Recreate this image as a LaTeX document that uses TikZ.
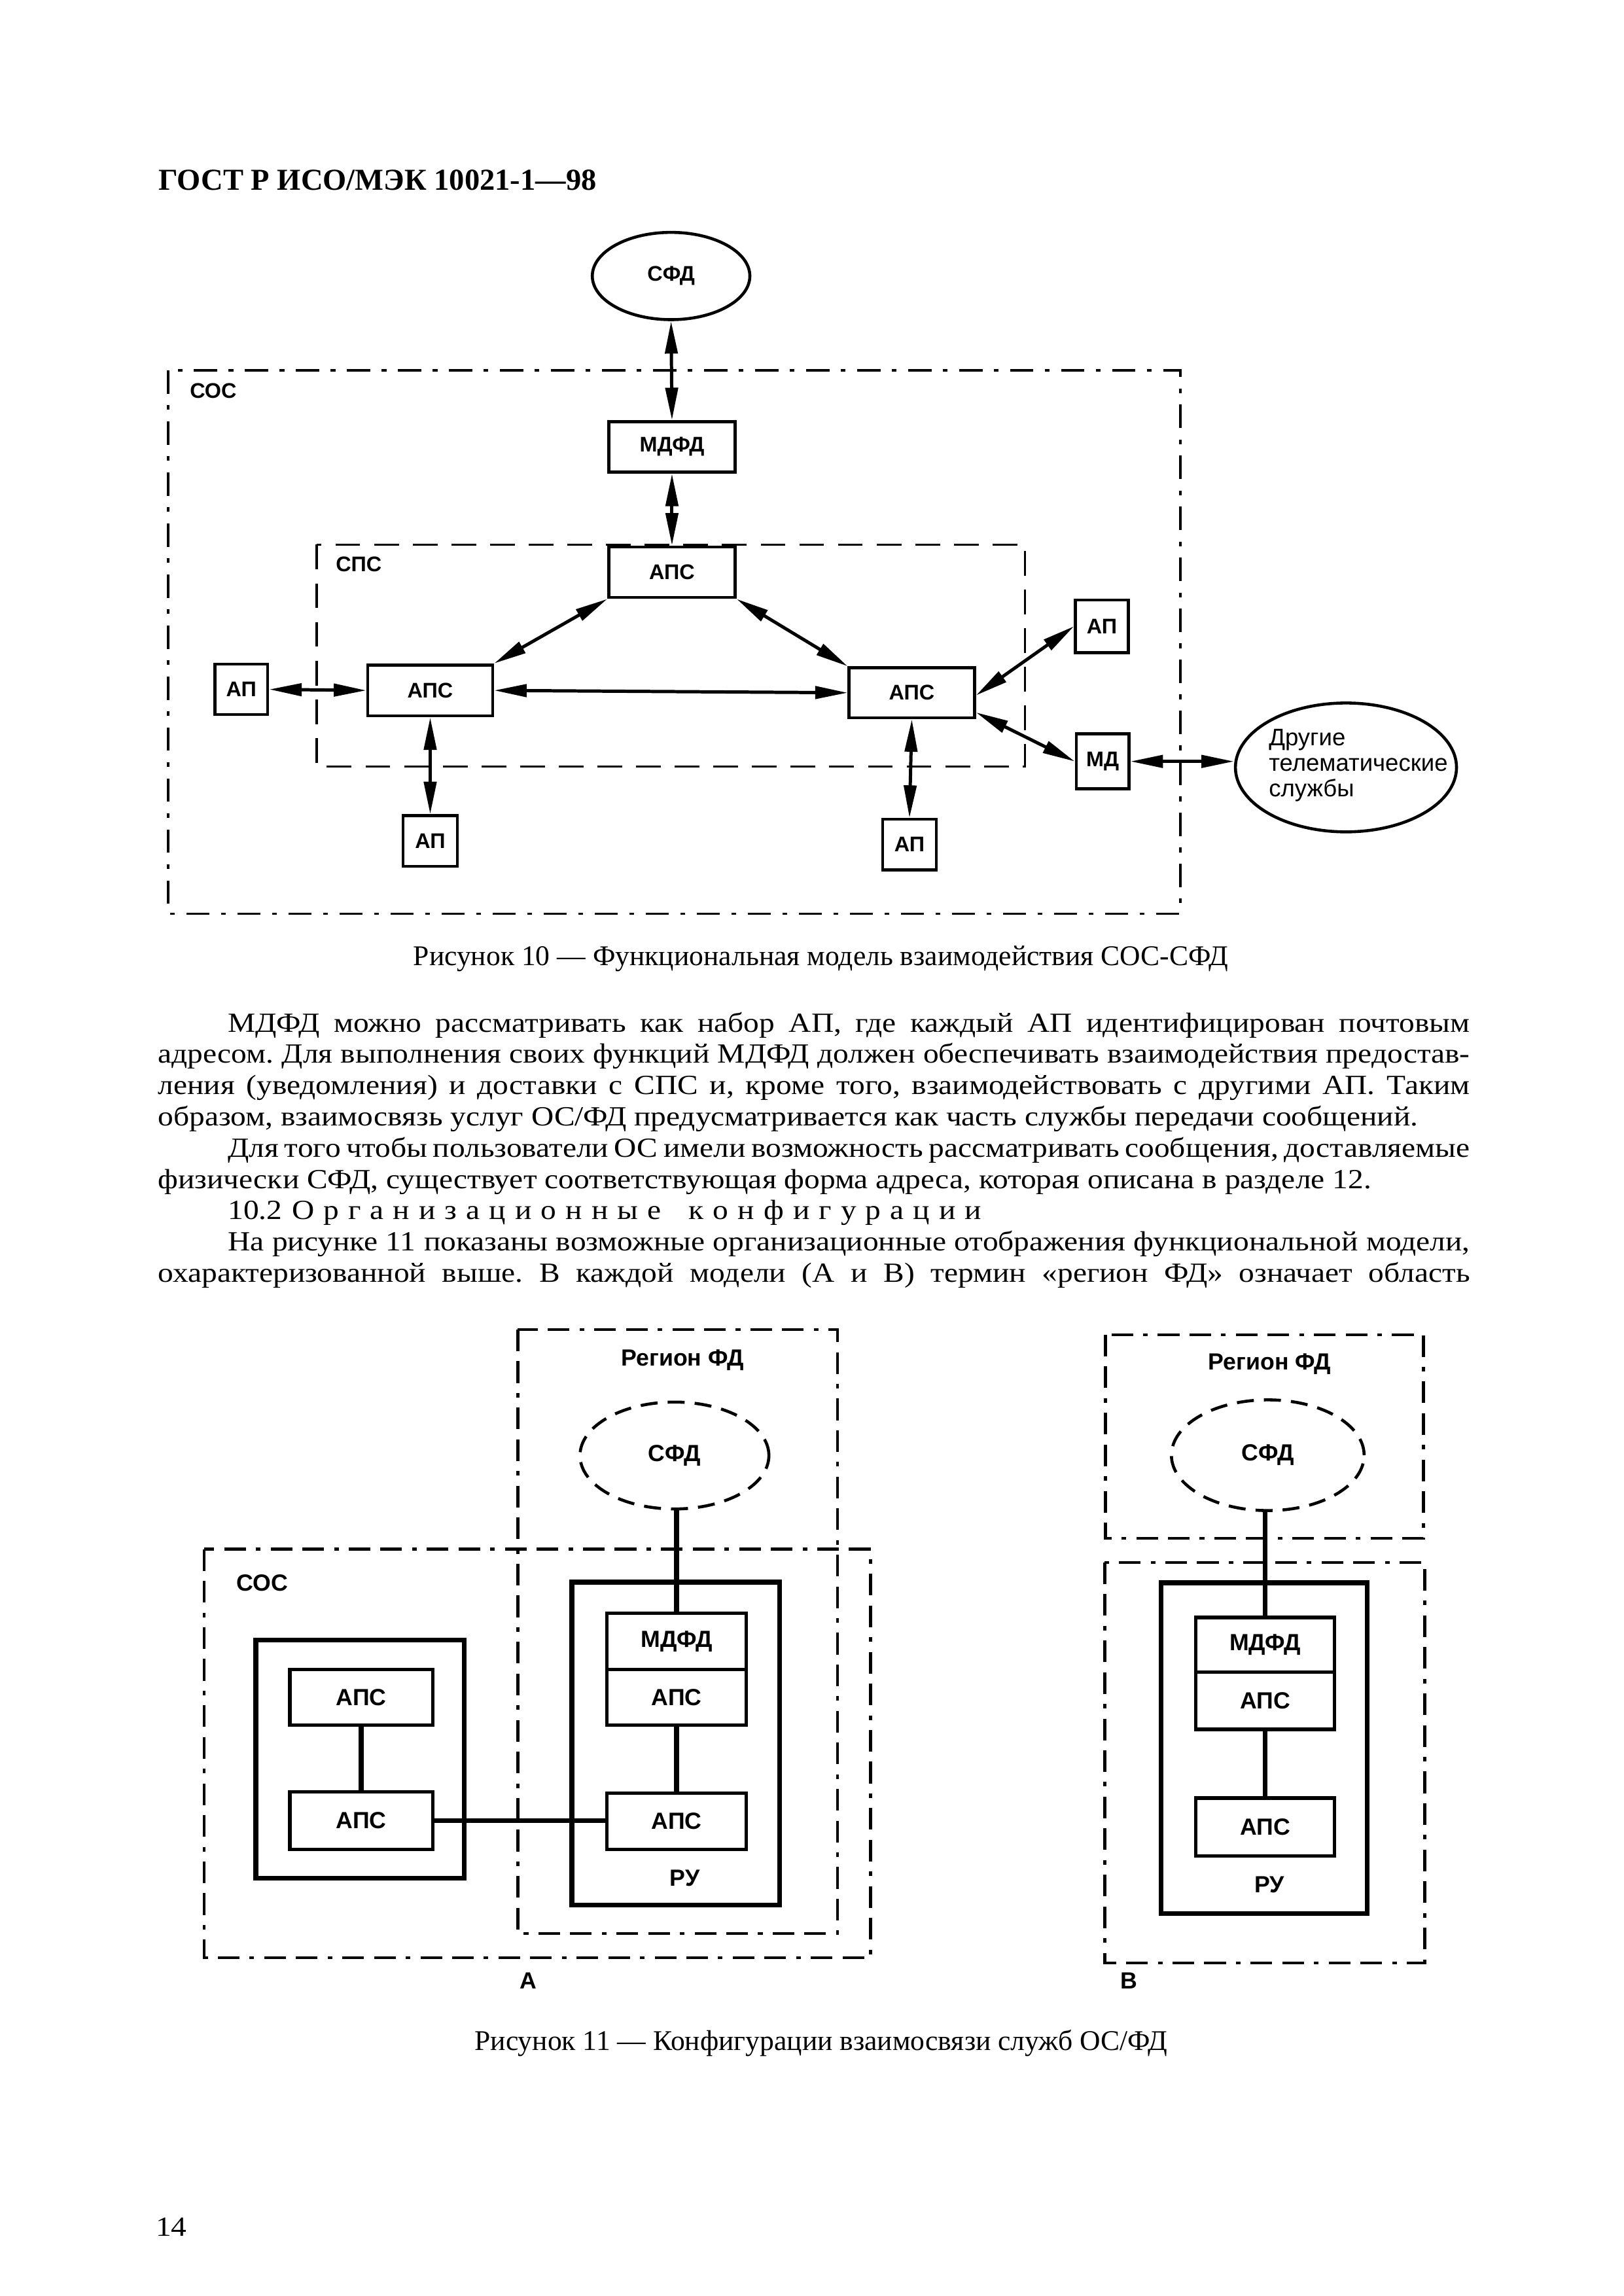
\documentclass[tikz,border=0pt]{standalone}
\usepackage{fontspec}
\setmainfont{Liberation Serif}
\newfontfamily\bodyfam[FakeStretch=1.12]{Liberation Serif}
\newfontfamily\lsans{Liberation Sans}
\usetikzlibrary{arrows.meta,shapes.geometric,calc}
\frenchspacing
\newlength{\pxu}\setlength{\pxu}{0.18941mm}
\newcommand{\bodyf}{\bodyfam\fontsize{10.2}{11.5}\selectfont}
\newcommand{\capf}{\fontsize{10.5}{12}\selectfont}
\newcommand{\labf}{\lsans\bfseries\fontsize{7.8}{9.3}\selectfont}
\newcommand{\labg}{\lsans\bfseries\fontsize{8.6}{10}\selectfont}
\newcommand{\labr}{\lsans\fontsize{8.8}{9.3}\selectfont}
\tikzset{
 bx/.style={draw, line width=1.1pt, inner sep=0pt, font=\labf},
 bxg/.style={draw, line width=1.3pt, inner sep=0pt, font=\labg},
 rubox/.style={draw, line width=1.8pt, inner sep=0pt},
 arr/.style={line width=1.2pt, {Triangle[length=4.2mm,width=1.6mm]}-{Triangle[length=4.2mm,width=1.6mm]}},
 ddot/.style={line width=0.9pt, dash pattern=on 3mm off 1.5mm on 0.6mm off 1.5mm},
 dsh/.style={line width=0.9pt, dash pattern=on 3.2mm off 1.8mm},
 ddg/.style={line width=1.1pt, dash pattern=on 2.8mm off 1.3mm on 2.8mm off 1.3mm on 0.6mm off 1.3mm},
 dell/.style={draw, ellipse, line width=1.1pt, dash pattern=on 2.2mm off 1.3mm, inner sep=0pt, font=\labg},
 conn/.style={line width=1.8pt},
 body/.style={inner sep=0pt, anchor=base west, font=\bodyf},
 capt/.style={inner sep=0pt, anchor=base, font=\capf},
 lbl/.style={inner sep=0pt, font=\labf},
 lblg/.style={inner sep=0pt, font=\labg},
}
\begin{document}
\begin{tikzpicture}[x=0.18941mm,y=-0.18941mm]
\fill[white] (0,0) rectangle (1109,1568);
\useasboundingbox (0,0) rectangle (1109,1568);

% header
\node[inner sep=0pt, anchor=base west, font=\bfseries\fontsize{11.2}{13}\selectfont] (head) at (108,129.6) {ГОСТ Р ИСО/МЭК 10021-1—98};

% ---------------- Figure 10 ----------------
\draw[ddot] (115,253) rectangle (806,624);
\node[lbl] (cosl) at (145.6,266.9) {СОС};
\draw[dsh] (216.3,372) rectangle (700,523.5);
\node[lbl] (spsl) at (245,385.5) {СПС};

\node[draw, ellipse, line width=1.1pt, inner sep=0pt, minimum width=107.6\pxu, minimum height=59.6\pxu, font=\labf] (sfd) at (458.3,188.5) {СФД};
\node[bx, minimum width=86.3\pxu, minimum height=34.5\pxu] (mdfd) at (458.9,305.2) {МДФД};
\node[bx, minimum width=86.3\pxu, minimum height=34.5\pxu] (apsT) at (458.9,390.8) {АПС};
\node[bx, minimum width=85.3\pxu, minimum height=34.8\pxu] (apsL) at (293.8,471.5) {АПС};
\node[bx, minimum width=85.6\pxu, minimum height=34.2\pxu] (apsR) at (622.7,473.1) {АПС};
\node[bx, minimum width=36.1\pxu, minimum height=34.5\pxu] (apL) at (164.8,470.8) {АП};
\node[bx, minimum width=37\pxu, minimum height=34.5\pxu] (apBL) at (293.8,574.3) {АП};
\node[bx, minimum width=36.6\pxu, minimum height=34.5\pxu] (apBR) at (621.1,576.8) {АП};
\node[bx, minimum width=36\pxu, minimum height=36\pxu] (apUR) at (752.5,427.7) {АП};
\node[bx, minimum width=36\pxu, minimum height=37.6\pxu] (md) at (753,520) {МД};
\node[draw, ellipse, line width=1.1pt, inner sep=0pt, minimum width=151\pxu, minimum height=88\pxu] (dr) at (919.2,524.1) {};
\node[inner sep=0pt, anchor=west, align=left, font=\labr] (drt) at (866.2,522.7) {Другие\\телематические\\службы};

\draw[arr] (sfd.south) -- (mdfd.north);
\draw[arr] (mdfd.south) -- (apsT.north);
\draw[arr] (apsT.south west) -- (apsL.north east);
\draw[arr] (apsT.south east) -- (apsR.north west);
\draw[arr] (apL.east) -- (apsL.west);
\draw[arr] (apsL.east) -- (apsR.west);
\draw[arr] (apsL.south) -- (apBL.north);
\draw[arr] (apsR.south) -- (apBR.north);
\draw[arr] ($(apsR.north east)!0.55!(apsR.south east)$) -- (apUR.west);
\draw[arr] ($(apsR.north east)!0.87!(apsR.south east)$) -- (md.west);
\draw[arr] (md.east) -- (md.east -| dr.west);

\node[capt] (cap10) at (560.5,659.4) {Рисунок 10 — Функциональная модель взаимодействия СОС-СФД};

% ---------------- body text ----------------
\node[body] (t1) at (155.3,704.7) {\makebox[848.2\pxu][s]{МДФД можно рассматривать как набор АП, где каждый АП идентифицирован почтовым}};
\node[body] (t2) at (107.6,726.1) {\makebox[896\pxu][s]{адресом. Для выполнения своих функций МДФД должен обеспечивать взаимодействия предостав-}};
\node[body] (t3) at (107.6,747.4) {\makebox[896\pxu][s]{ления (уведомления) и доставки с СПС и, кроме того, взаимодействовать с другими АП. Таким}};
\node[body] (t4) at (107.6,768.8) {образом, взаимосвязь услуг ОС/ФД предусматривается как часть службы передачи сообщений.};
\node[body] (t5) at (155.3,790.2) {\makebox[848.2\pxu][s]{Для того чтобы пользователи ОС имели возможность рассматривать сообщения, доставляемые}};
\node[body] (t6) at (107.6,811.6) {физически СФД, существует соответствующая форма адреса, которая описана в разделе 12.};
\node[body] (t7a) at (155.3,832.9) {10.2};
\node[body] (t7b) at (199,832.9) {\makebox[471\pxu][s]{О р г а н и з а ц и о н н ы е\ \ \ к о н ф и г у р а ц и и}};
\node[body] (t8) at (155.3,854.3) {\makebox[848.2\pxu][s]{На рисунке 11 показаны возможные организационные отображения функциональной модели,}};
\node[body] (t9) at (107.6,875.7) {\makebox[896\pxu][s]{охарактеризованной выше. В каждой модели (А и В) термин «регион ФД» означает область}};

% ---------------- Figure 11 A ----------------
\draw[ddg] (353.6,908) rectangle (572,1320.5);
\draw[ddg] (139.5,1058) rectangle (594.6,1337);
\node[lblg] (regAl) at (466,929) {Регион ФД};
\node[lblg] (cosAl) at (179,1081) {СОС};
\node[dell, minimum width=129\pxu, minimum height=73\pxu] (sfdA) at (460.6,994) {СФД};
\node[rubox, minimum width=142\pxu, minimum height=220.5\pxu] (ruA) at (461.5,1190.75) {};
\node[bxg, minimum width=95.2\pxu, minimum height=38.3\pxu] (mdfdA) at (462.1,1120.85) {МДФД};
\node[bxg, minimum width=95.2\pxu, minimum height=38\pxu] (apsA1) at (462.1,1159) {АПС};
\node[bxg, minimum width=95.2\pxu, minimum height=38.5\pxu] (apsA2) at (462.1,1243.75) {АПС};
\node[lblg] (ruAl) at (467.7,1282.6) {РУ};
\node[rubox, minimum width=142.2\pxu, minimum height=162.6\pxu] (lbox) at (245.9,1201.3) {};
\node[bxg, minimum width=97.5\pxu, minimum height=38\pxu] (apsL1) at (246.75,1159) {АПС};
\node[bxg, minimum width=97.5\pxu, minimum height=39.2\pxu] (apsL2) at (246.75,1243.4) {АПС};
\draw[conn] (mdfdA.north) -- (mdfdA.north |- sfdA.south);
\draw[conn] (apsA1.south) -- (apsA2.north);
\draw[conn] (apsL1.south) -- (apsL2.north);
\draw[conn] (apsL2.east) -- (apsL2.east -| apsA2.west);
\node[lblg, anchor=base] (labA) at (361,1358) {А};

% ---------------- Figure 11 B ----------------
\draw[ddg] (755,911.5) rectangle (972,1050.5);
\draw[ddg] (754.4,1067) rectangle (973,1340.6);
\node[lblg] (regBl) at (867,931.6) {Регион ФД};
\node[dell, minimum width=131.6\pxu, minimum height=75.6\pxu] (sfdB) at (865.8,993.8) {СФД};
\node[rubox, minimum width=140.6\pxu, minimum height=225.9\pxu] (ruB) at (863.3,1193.95) {};
\node[bxg, minimum width=94.6\pxu, minimum height=37.4\pxu] (mdfdB) at (864,1123.3) {МДФД};
\node[bxg, minimum width=94.6\pxu, minimum height=39\pxu] (apsB1) at (864,1161.5) {АПС};
\node[bxg, minimum width=94.6\pxu, minimum height=39.4\pxu] (apsB2) at (864,1247.7) {АПС};
\node[lblg] (ruBl) at (866.8,1287) {РУ};
\draw[conn] (mdfdB.north) -- (mdfdB.north |- sfdB.south);
\draw[conn] (apsB1.south) -- (apsB2.north);
\node[lblg, anchor=base] (labB) at (771,1358) {В};

\node[capt] (cap11) at (560.7,1400) {Рисунок 11 — Конфигурации взаимосвязи служб ОС/ФД};
\node[body] (pnum) at (106,1527) {14};
\end{tikzpicture}
\end{document}
